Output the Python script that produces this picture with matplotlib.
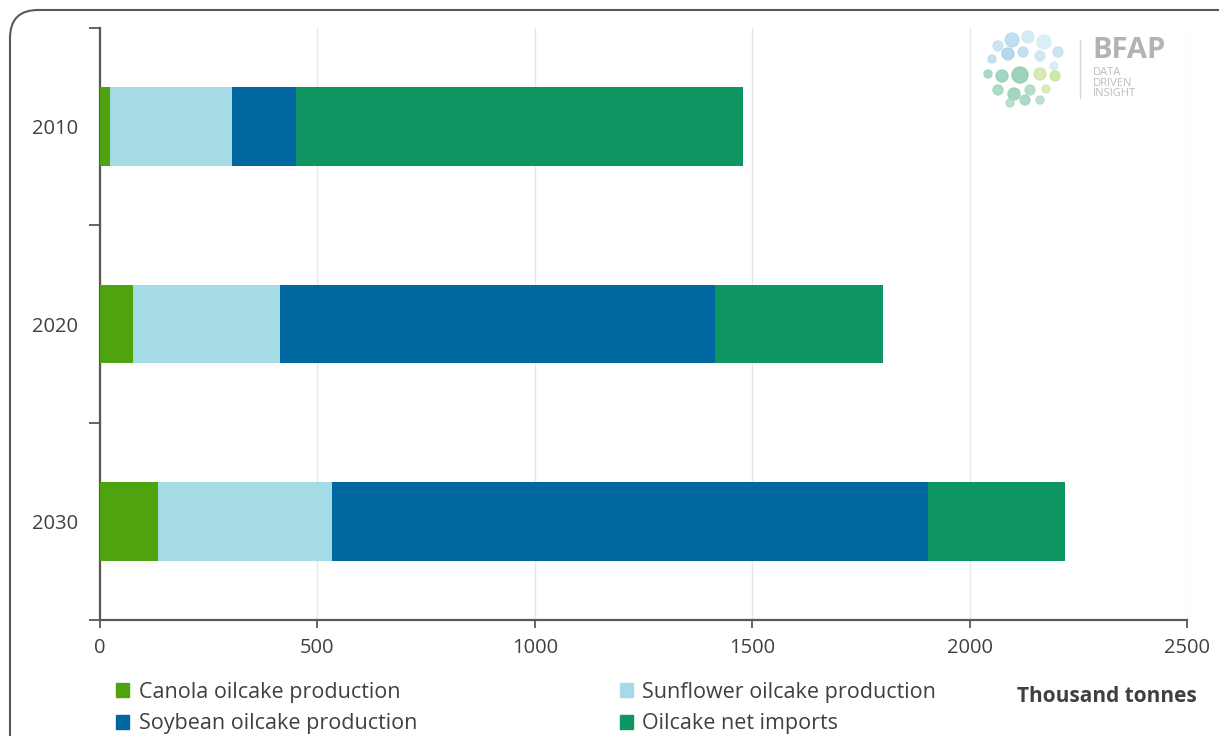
import matplotlib.pyplot as plt
from matplotlib.patches import FancyBboxPatch, Patch
from matplotlib.transforms import IdentityTransform

plt.rcParams['font.family'] = ['Open Sans', 'DejaVu Sans']

years = ['2010', '2020', '2030']
canola = [23, 76, 133]
sunflower = [281, 338, 401]
soybean = [147, 1000, 1370]
imports = [1028, 387, 315]

series = [
    ('Canola oilcake production', canola, '#4fa30e'),
    ('Sunflower oilcake production', sunflower, '#a5dbe4'),
    ('Soybean oilcake production', soybean, '#0067a0'),
    ('Oilcake net imports', imports, '#0f9562'),
]

fig = plt.figure(figsize=(12.19, 7.36), dpi=100)
ax = fig.add_axes([100 / 1219, 116 / 736, 1087 / 1219, 592 / 736])

pos = list(range(len(years)))
left = [0] * len(years)
for name, vals, col in series:
    ax.barh(pos, vals, left=left, height=0.4, color=col, label=name, zorder=3)
    left = [a + b for a, b in zip(left, vals)]

ax.set_xlim(0, 2500)
ax.set_ylim(2.5, -0.5)
ax.set_xticks(range(0, 2501, 500))
ax.grid(axis='x', color='#e6e6e6', linewidth=1, zorder=0)

ax.set_yticks([-0.5, 0.5, 1.5, 2.5])
ax.set_yticklabels([])
ax.set_yticks(pos, minor=True)
ax.set_yticklabels(years, minor=True)
ax.tick_params(axis='y', which='major', length=8, width=1.3, color='#595959', direction='out')
ax.tick_params(axis='y', which='minor', length=0, pad=16, labelsize=14.5, labelcolor='#404040')
ax.tick_params(axis='x', length=6, width=1.3, color='#595959', pad=7, labelsize=14.5, labelcolor='#404040')

for s in ['top', 'right']:
    ax.spines[s].set_visible(False)
for s in ['left', 'bottom']:
    ax.spines[s].set_color('#595959')
    ax.spines[s].set_linewidth(1.6)

handles = [Patch(color=c) for _, _, c in series]
labels = [n for n, _, _ in series]
order = [0, 2, 1, 3]
fig.legend([handles[i] for i in order], [labels[i] for i in order], ncol=2,
           loc='center left', bbox_to_anchor=(97 / 1219, 28 / 736), frameon=False,
           fontsize=15.5, handlelength=0.6, handleheight=0.6, handletextpad=0.45,
           columnspacing=9.4, labelspacing=0.5, labelcolor='#404040')

fig.text(1197 / 1219, 40 / 736, 'Thousand tonnes', ha='right', va='center',
         fontsize=15, fontweight='bold', color='#404040')

# rounded frame of the slide
frame = FancyBboxPatch((10, -60), 1300, 786, boxstyle='round,pad=0,rounding_size=28',
                       transform=IdentityTransform(), fill=False, edgecolor='#5a5a5a',
                       linewidth=1.5, figure=fig)
fig.patches.append(frame)

# BFAP logo
fig.text(1092 / 1219, 686 / 736, 'BFAP', fontsize=21, fontweight='bold', color='#b3b3b3',
         ha='left', va='center')
fig.text(1093 / 1219, 653 / 736, 'DATA\nDRIVEN\nINSIGHT', fontsize=8, color='#bdbdbd',
         ha='left', va='center', linespacing=0.95)
fig.add_artist(plt.Line2D([1080 / 1219, 1080 / 1219], [638 / 736, 696 / 736], color='#d5d5d5', lw=1))
dots = [(998, 690, 5, '#c4e1f0'), (1012, 696, 7, '#b5daee'), (1028, 699, 6, '#cfe8f3'),
        (1044, 694, 7, '#d6edf4'), (1058, 684, 5, '#c2e0ee'), (992, 677, 4, '#bcdced'),
        (1008, 682, 6, '#a9d2ea'), (1023, 684, 5, '#b7dbee'), (1040, 680, 5, '#cce6f0'),
        (1054, 670, 4, '#d5eaf0'), (988, 662, 4, '#9bd2bd'), (1002, 660, 6, '#96cfb7'),
        (1020, 661, 8, '#8ecbb0'), (1040, 662, 6, '#cfe7a9'), (1055, 660, 5, '#c6e39c'),
        (998, 646, 5, '#9fd5bd'), (1014, 642, 6, '#92cfb4'), (1030, 646, 5, '#a9d8c3'),
        (1046, 647, 4, '#d2e9ad'), (1010, 633, 4, '#abdbc6'), (1025, 636, 5, '#9fd5bd'),
        (1040, 636, 4, '#b3ddc9')]
for x, y, r, c in dots:
    fig.patches.append(plt.Circle((x, y), r, transform=IdentityTransform(), color=c,
                                  alpha=0.85, figure=fig))

fig.savefig('out.png', dpi=100)
